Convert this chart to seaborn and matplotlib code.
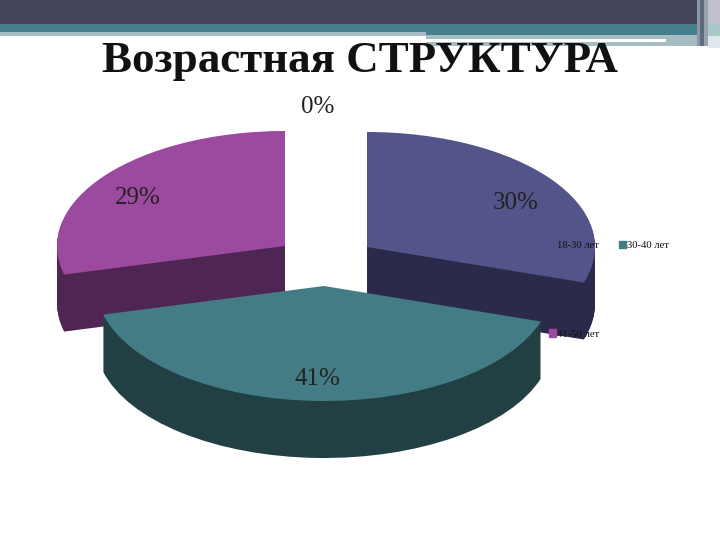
import matplotlib
matplotlib.use('Agg')
import matplotlib.pyplot as plt
from matplotlib.patches import Patch
import seaborn as sns

categories = ['18-30 лет', '30-40 лет', '41-50 лет', 'старше 50 лет']
shares = [30, 41, 29, 0]
pct_labels = ['30%', '41%', '29%', '0%']
top_colors = ['#53548a', '#437c84', '#9c4a9f', '#ffffff']
side_colors = ['#2a2a4a', '#224044', '#4f2553', '#ffffff']

WIDTH, HEIGHT = 720, 540
RX, RY = 228, 115
DEPTH = 57
# apex of each exploded slice, in image pixels
apex = [(367, 247), (324, 286), (285, 246), (325, 247)]
label_pos = [(516, 203), (317, 379), (138, 198), (318, 107)]


def to_data(px, py):
    return px / RX, (HEIGHT - py) / RY


def draw_slices(ax, index, colors, offset=0):
    wedges, _ = ax.pie(shares, colors=colors, startangle=90, counterclock=False, radius=1)
    for i, wedge in enumerate(wedges):
        if i != index:
            wedge.remove()
            continue
        wedge.set_center(to_data(apex[i][0], apex[i][1] + offset))
        wedge.set_linewidth(0)


sns.set_theme(style='white')
plt.rcParams['font.family'] = ['Liberation Serif', 'DejaVu Serif']

fig = plt.figure(figsize=(7.2, 5.4), dpi=100)

# slide header
bg = fig.add_axes([0, 0, 1, 1])
bg.set_xlim(0, WIDTH)
bg.set_ylim(HEIGHT, 0)
bg.axis('off')
bg.axhspan(0, 20, color='#43455a', lw=0)
bg.axhspan(20, 24, color='#4a4058', lw=0)
bg.axhspan(24, 32, color='#47808c', lw=0)
bg.fill_between([0, 426], 32, 36, color='#a5bcc2', lw=0)
bg.fill_between([426, 697], 32, 35, color='#47808c', lw=0)
bg.fill_between([426, 666], 35, 39, color='#a5bcc2', lw=0)
bg.fill_between([426, 666], 39, 42, color='#ffffff', lw=0)
bg.fill_between([426, 666], 42, 46, color='#a5bcc2', lw=0)
bg.fill_between([666, 697], 35, 46, color='#a5bcc2', lw=0)
bg.fill_between([697, 700], 0, 46, color='#8f95a5', lw=0)
bg.fill_between([700, 704], 0, 46, color='#5d6a80', lw=0)
bg.fill_between([704, 708], 0, 46, color='#9aa2b0', lw=0)
bg.fill_between([708, 720], 0, 24, color='#c0c0cc', lw=0)
bg.fill_between([708, 720], 24, 36, color='#a8c8c8', lw=0)
bg.fill_between([708, 720], 36, 48, color='#dfe8ea', lw=0)

ax = fig.add_axes([0, 0, 1, 1])
ax.patch.set_alpha(0)

# back slices first, then the front slice over them
for index in [0, 2, 1]:
    for offset in range(DEPTH, 0, -1):
        draw_slices(ax, index, side_colors, offset)
    draw_slices(ax, index, top_colors)

ax.set_aspect('auto')
ax.set_xlim(0, WIDTH / RX)
ax.set_ylim(0, HEIGHT / RY)
ax.axis('off')

handles = [Patch(color=top_colors[0]), Patch(color=top_colors[2]), Patch(color=top_colors[1])]
ax.legend(handles, [categories[0], categories[2], categories[1]], ncol=2, frameon=False,
          fontsize=7.7, loc='upper left', bbox_to_anchor=(549 / WIDTH, 1 - 241 / HEIGHT),
          bbox_transform=fig.transFigure, borderpad=0, borderaxespad=0,
          handlelength=0.65, handleheight=0.65, handletextpad=0.1,
          labelspacing=7.4, columnspacing=1.85, labelcolor='#111111')

fig.text(360 / WIDTH, 1 - 61 / HEIGHT, 'Возрастная СТРУКТУРА', ha='center', va='center',
         fontsize=32.4, fontweight='bold', color='#111111')
for text, (px, py) in zip(pct_labels, label_pos):
    fig.text(px / WIDTH, 1 - py / HEIGHT, text, ha='center', va='center', fontsize=18, color='#222222')

fig.savefig('out.png', dpi=100)
plt.close(fig)
